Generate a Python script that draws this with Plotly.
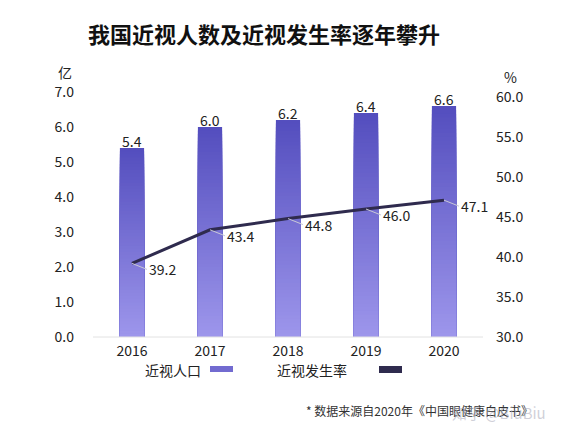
import plotly.graph_objects as go

years = ["2016", "2017", "2018", "2019", "2020"]
population = [5.4, 6.0, 6.2, 6.4, 6.6]      # 亿
rate = [39.2, 43.4, 44.8, 46.0, 47.1]       # %
left_ticks = [0, 1, 2, 3, 4, 5, 6, 7]
right_ticks = [30, 35, 40, 45, 50, 55, 60]

FONT = "Noto Sans CJK SC"
TOP = (84, 78, 190)
BOT = (158, 151, 236)
N = 60

def mix(t):
    return "rgb(%d,%d,%d)" % tuple(round(BOT[i] + (TOP[i] - BOT[i]) * t) for i in range(3))

def px(x):
    return (x - 93) / 390

def py(y):
    return (337 - y) / 245

fig = go.Figure()
# gradient bars: nested overlaid bars, each shorter one lighter, drawn on top
for k in range(N):
    frac = (N - k) / N
    fig.add_trace(go.Bar(
        x=years, y=[v * frac for v in population],
        marker=dict(color=mix(frac), line=dict(width=0)),
        width=0.31, showlegend=False, hoverinfo="skip", yaxis="y"))

fig.add_trace(go.Scatter(
    x=years, y=rate, mode="lines", yaxis="y2",
    line=dict(color="#2f2b4e", width=3), showlegend=False))

ann = []
for i, (yr, v) in enumerate(zip(years, population)):
    ann.append(dict(x=i, y=v, xref="x", yref="y", text=f"{v:.1f}", showarrow=False,
                    yanchor="bottom", yshift=-5, font=dict(family=FONT, size=14, color="#222")))
for i, (yr, r) in enumerate(zip(years, rate)):
    ann.append(dict(x=i, y=r, xref="x", yref="y2", text=f"{r:.1f}", showarrow=True,
                    arrowhead=0, arrowwidth=1, arrowcolor="#c9c9d6", ax=15, ay=6,
                    xanchor="left", yanchor="middle",
                    font=dict(family=FONT, size=14, color="#222")))

# title, units, legend, footnote
ann += [
    dict(x=px(264), y=py(33), xref="paper", yref="paper", xanchor="center", yanchor="middle",
         text="<b>我国近视人数及近视发生率逐年攀升</b>", showarrow=False,
         font=dict(family=FONT, size=22, color="#111")),
    dict(x=px(65), y=py(72), xref="paper", yref="paper", text="亿",
         showarrow=False, xanchor="center", yanchor="middle",
         font=dict(family=FONT, size=14, color="#222")),
    dict(x=px(510), y=py(77), xref="paper", yref="paper", text="%",
         showarrow=False, xanchor="center", yanchor="middle",
         font=dict(family=FONT, size=14, color="#222")),
    dict(x=px(143), y=py(370), xref="paper", yref="paper", text="近视人口",
         showarrow=False, xanchor="left", yanchor="middle",
         font=dict(family=FONT, size=14, color="#222")),
    dict(x=px(275), y=py(370), xref="paper", yref="paper", text="近视发生率",
         showarrow=False, xanchor="left", yanchor="middle",
         font=dict(family=FONT, size=14, color="#222")),
    dict(x=px(304), y=py(410), xref="paper", yref="paper",
         text="* 数据来源自2020年《中国眼健康白皮书》",
         showarrow=False, xanchor="left", yanchor="middle",
         font=dict(family=FONT, size=12, color="#333")),
    dict(x=px(548), y=py(412), xref="paper", yref="paper",
         text="知乎 @BiuBiu", showarrow=False, xanchor="right", yanchor="middle",
         font=dict(family=FONT, size=15, color="rgba(175,175,190,0.6)")),
]

shapes = [
    dict(type="line", xref="paper", yref="paper", x0=0, x1=1, y0=0, y1=0,
         line=dict(color="#e2e2e2", width=1)),
    dict(type="rect", xref="paper", yref="paper", x0=px(210), x1=px(233),
         y0=py(372), y1=py(366), fillcolor=mix(0.6), line=dict(width=0)),
    dict(type="rect", xref="paper", yref="paper", x0=px(379), x1=px(402),
         y0=py(373), y1=py(366), fillcolor="#2f2b4e", line=dict(width=0)),
]

fig.update_layout(
    width=571, height=438, paper_bgcolor="white", plot_bgcolor="white",
    margin=dict(l=93, r=88, t=92, b=101),
    barmode="overlay", showlegend=False,
    font=dict(family=FONT, size=14, color="#222"),
    xaxis=dict(type="category", categoryorder="array", categoryarray=years,
               range=[-0.5, 4.5], autorange=False,
               showgrid=False, showline=False, ticks="", ticklabelstandoff=4,
               tickfont=dict(family=FONT, size=14, color="#222")),
    yaxis=dict(range=[0, 7], autorange=False, tickvals=left_ticks, tickformat=".1f",
               showgrid=False, zeroline=False, showline=False, ticklabelstandoff=18,
               tickfont=dict(family=FONT, size=14, color="#222")),
    yaxis2=dict(range=[30, 30 + 245 / 8], autorange=False, tickvals=right_ticks,
                tickformat=".1f", overlaying="y", side="right", showgrid=False,
                zeroline=False, showline=False, ticklabelstandoff=12,
                tickfont=dict(family=FONT, size=14, color="#222")),
    annotations=ann, shapes=shapes,
)

fig.write_html("out.html", config={"displayModeBar": False},
               post_script="document.body.style.margin='0';document.body.style.padding='0';")
